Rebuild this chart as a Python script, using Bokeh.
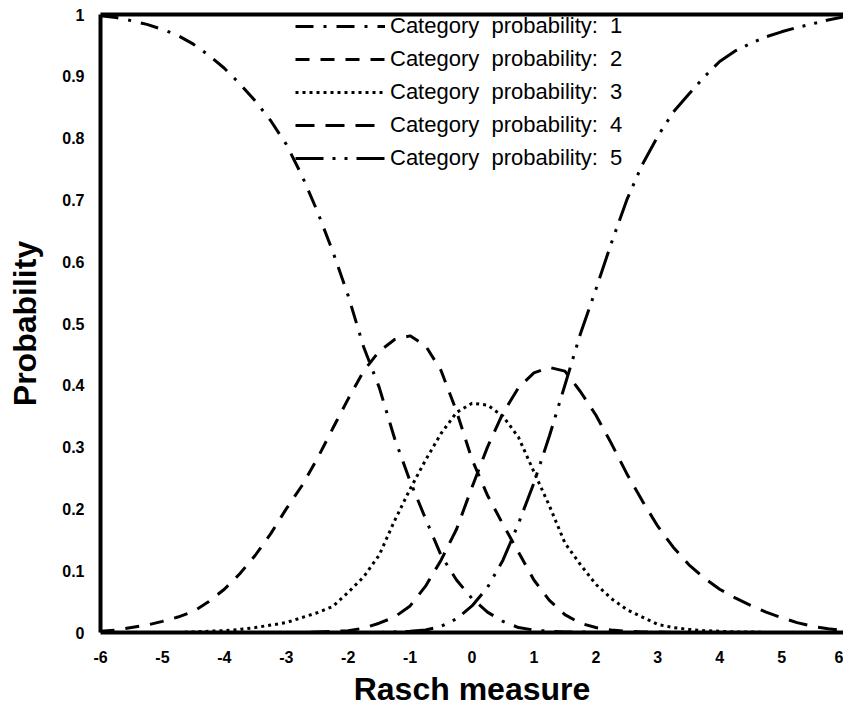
from bokeh.plotting import figure
from bokeh.models import FixedTicker, LinearAxis, Legend, LegendItem, Range1d
from bokeh.embed import file_html
from bokeh.resources import INLINE

# ---- data ----
rasch_measure = [-6, -5.75, -5.5, -5.25, -5, -4.75, -4.5, -4.25, -4, -3.75, -3.5, -3.25, -3,
                 -2.75, -2.5, -2.25, -2, -1.75, -1.5, -1.25, -1, -0.75, -0.5, -0.25,
                 0, 0.25, 0.5, 0.75, 1, 1.25, 1.5, 1.75, 2, 2.25, 2.5, 2.75,
                 3, 3.25, 3.5, 3.75, 4, 4.25, 4.5, 4.75, 5, 5.25, 5.5, 5.75, 6]

cat1 = [0.998, 0.995, 0.990, 0.984, 0.976, 0.966, 0.952, 0.934, 0.913, 0.888, 0.860, 0.828, 0.790,
        0.740, 0.682, 0.617, 0.545, 0.462, 0.397, 0.314, 0.245, 0.184, 0.125, 0.085,
        0.055, 0.033, 0.018, 0.008, 0.004, 0.002, 0.001, 0.001, 0.0, 0.0, 0.0, 0.0,
        0.0, 0.0, 0.0, 0.0, 0.0, 0.0, 0.0, 0.0, 0.0, 0.0, 0.0, 0.0, 0.0]

cat2 = [0.002, 0.004, 0.008, 0.012, 0.018, 0.025, 0.034, 0.050, 0.070, 0.095, 0.125, 0.160, 0.200,
        0.237, 0.281, 0.330, 0.378, 0.423, 0.455, 0.474, 0.480, 0.464, 0.424, 0.358,
        0.280, 0.222, 0.175, 0.130, 0.085, 0.052, 0.029, 0.015, 0.008, 0.004, 0.002, 0.001,
        0.001, 0.0, 0.0, 0.0, 0.0, 0.0, 0.0, 0.0, 0.0, 0.0, 0.0, 0.0, 0.0]

cat3 = [0.0, 0.0, 0.0, 0.0, 0.0, 0.0, 0.001, 0.002, 0.003, 0.005, 0.008, 0.012, 0.016,
        0.024, 0.032, 0.042, 0.065, 0.090, 0.125, 0.181, 0.232, 0.279, 0.322, 0.356,
        0.371, 0.368, 0.350, 0.316, 0.260, 0.205, 0.145, 0.110, 0.078, 0.055, 0.037, 0.025,
        0.013, 0.008, 0.005, 0.003, 0.002, 0.001, 0.001, 0.0, 0.0, 0.0, 0.0, 0.0, 0.0]

cat4 = [0.0, 0.0, 0.0, 0.0, 0.0, 0.0, 0.0, 0.0, 0.0, 0.0, 0.0, 0.0, 0.0,
        0.0, 0.001, 0.002, 0.003, 0.007, 0.015, 0.025, 0.043, 0.075, 0.117, 0.167,
        0.235, 0.300, 0.355, 0.396, 0.420, 0.429, 0.423, 0.390, 0.352, 0.306, 0.257, 0.213,
        0.172, 0.138, 0.110, 0.088, 0.070, 0.056, 0.044, 0.033, 0.024, 0.016, 0.010, 0.006, 0.003]

cat5 = [0.0, 0.0, 0.0, 0.0, 0.0, 0.0, 0.0, 0.0, 0.0, 0.0, 0.0, 0.0, 0.0,
        0.0, 0.0, 0.0, 0.0, 0.0, 0.0, 0.001, 0.002, 0.004, 0.010, 0.022,
        0.043, 0.073, 0.117, 0.176, 0.242, 0.318, 0.400, 0.483, 0.555, 0.630, 0.700, 0.757,
        0.803, 0.842, 0.871, 0.899, 0.924, 0.941, 0.953, 0.964, 0.972, 0.979, 0.985, 0.991, 0.996]

series_labels = ["Category  probability:  1", "Category  probability:  2",
                 "Category  probability:  3", "Category  probability:  4",
                 "Category  probability:  5"]

x_ticks = [-6, -5, -4, -3, -2, -1, 0, 1, 2, 3, 4, 5, 6]
x_tick_labels = ["-6", "-5", "-4", "-3", "-2", "-1", "0", "1", "2", "3", "4", "5", "6"]
y_ticks = [0, 0.1, 0.2, 0.3, 0.4, 0.5, 0.6, 0.7, 0.8, 0.9, 1]
y_tick_labels = ["0", "0.1", "0.2", "0.3", "0.4", "0.5", "0.6", "0.7", "0.8", "0.9", "1"]

# ---- styles ----
dashes = ["18 10 3 10", "14 11", "3 4", "19 11", "28 9 3 9 3 9"]
FONT = "Liberation Sans"

p = figure(width=843, height=709, x_range=Range1d(-6, 6), y_range=Range1d(0, 1),
           output_backend="svg", toolbar_location=None,
           min_border_left=100, min_border_right=0, min_border_top=14, min_border_bottom=0)
p.grid.visible = False
p.outline_line_color = None

items = []
for ys, dash, lab in zip([cat1, cat2, cat3, cat4, cat5], dashes, series_labels):
    r = p.line(rasch_measure, ys, line_color="black", line_width=3, line_dash=dash)
    items.append(LegendItem(label=lab, renderers=[r]))

# axes
for ax in (p.xaxis[0], p.yaxis[0]):
    ax.axis_line_width = 4
    ax.axis_line_color = "black"
    ax.major_tick_line_color = None
    ax.minor_tick_line_color = None
    ax.major_label_text_font = FONT
    ax.major_label_text_font_style = "bold"
    ax.major_label_text_font_size = "16px"
    ax.major_label_text_color = "black"
    ax.axis_label_text_font = FONT
    ax.axis_label_text_font_style = "bold"
    ax.axis_label_text_font_size = "32px"
    ax.axis_label_text_color = "black"

p.xaxis.ticker = FixedTicker(ticks=x_ticks)
p.xaxis.major_label_overrides = dict(zip(x_ticks, x_tick_labels))
p.xaxis.axis_label = "Rasch measure"
p.xaxis.major_label_standoff = 12
p.xaxis.axis_label_standoff = 5

p.yaxis.ticker = FixedTicker(ticks=y_ticks)
p.yaxis.major_label_overrides = dict(zip(y_ticks, y_tick_labels))
p.yaxis.axis_label = "Probability"
p.yaxis.major_label_standoff = 10
p.yaxis.axis_label_standoff = 16

top = LinearAxis(ticker=FixedTicker(ticks=[]), axis_line_width=4, axis_line_color="black",
                 major_tick_out=0, minor_tick_out=0, major_label_text_font_size="0px",
                 major_label_standoff=0)
p.add_layout(top, "above")

legend = Legend(items=items, location=(195, 461), orientation="vertical",
                glyph_width=90, glyph_height=22, label_height=22, spacing=7,
                label_standoff=5, padding=0, margin=0,
                border_line_color=None, background_fill_alpha=0,
                label_text_font=FONT, label_text_font_size="22px", label_text_color="black")
p.add_layout(legend, "center")

open("out.html", "w").write(file_html(p, INLINE))
